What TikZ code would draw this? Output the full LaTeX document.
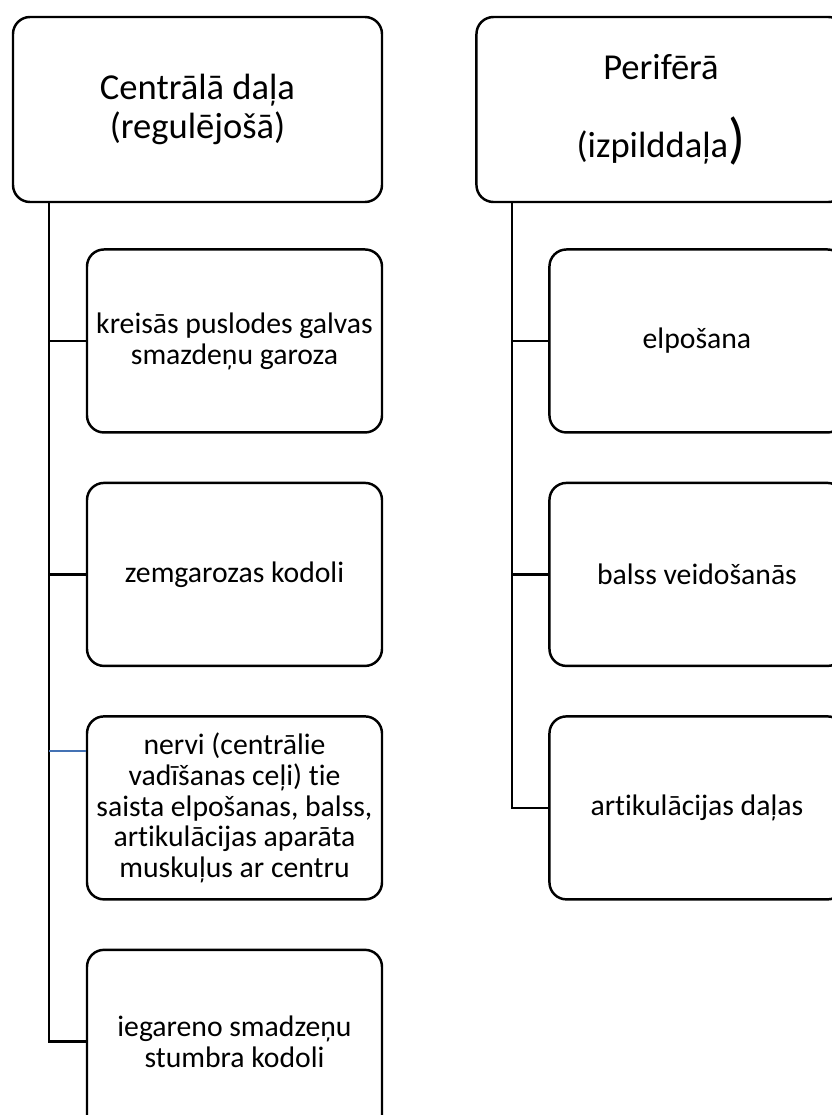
\documentclass[tikz,border=0pt]{standalone}
\usepackage{fontspec}
\setmainfont{Carlito}[Ligatures=NoCommon]
\usetikzlibrary{positioning}
\definecolor{linkblue}{RGB}{68,114,180}

\begin{document}
\begin{tikzpicture}[node distance=0.96cm, line width=1.4pt,
  box/.style={draw, rounded corners=0.34cm, align=center},
  head/.style={box, minimum width=7.38cm, minimum height=3.7cm, font=\fontsize{20.8pt}{21.8pt}\selectfont},
  item/.style={box, minimum width=5.9cm, minimum height=3.66cm, font=\fontsize{16.9pt}{17.6pt}\selectfont}]
  \useasboundingbox (0,0) rectangle (16.64,-22.3);
  \clip (0,0) rectangle (16.64,-22.3);
  \node[head] (cent) at (3.95,-2.19) {Centrālā daļa\\(regulējošā)};
  \node[head] (peri) [right=1.84cm of cent] {Perifērā\\[20pt](izpilddaļa{\fontsize{31.7pt}{32pt}\selectfont)}};
  \node[item] (k1) [below right=0.9cm and 1.48cm of cent.south west] {kreisās puslodes galvas\\smazdeņu garoza};
  \node[item] (k2) [below=of k1] {zemgarozas kodoli};
  \node[item] (k3) [below=of k2] {nervi (centrālie\\vadīšanas ceļi) tie\\saista elpošanas, balss,\\artikulācijas aparāta\\muskuļus ar centru};
  \node[item] (k4) [below=of k3] {iegareno smadzeņu\\stumbra kodoli};
  \node[item] (p1) [below right=0.9cm and 1.46cm of peri.south west] {elpošana};
  \node[item] (p2) [below=of p1] {balss veidošanās};
  \node[item] (p3) [below=of p2] {artikulācijas daļas};
  \coordinate (cl) at ([xshift=0.74cm]cent.south west);
  \coordinate (pl) at ([xshift=0.74cm]peri.south west);
  \coordinate (k3in) at ([yshift=1.14cm]k3.west);
  \draw (cl) |- (k1.west);
  \draw (cl) |- (k2.west);
  \draw (cl) |- (k4.west);
  \draw [linkblue, line width=1.1pt] (cl |- k3in) -- (k3in);
  \draw (pl) |- (p1.west);
  \draw (pl) |- (p2.west);
  \draw (pl) |- (p3.west);
\end{tikzpicture}
\end{document}
